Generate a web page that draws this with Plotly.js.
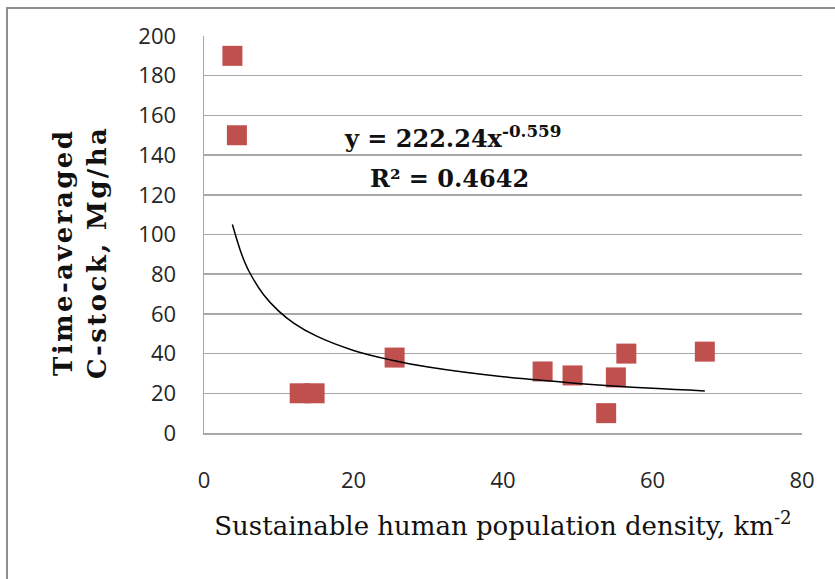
<!DOCTYPE html>
<html>
<head>
<meta charset="utf-8">
<script src="https://cdn.plot.ly/plotly-3.0.1.min.js"></script>
<style>
  html, body { margin: 0; padding: 0; background: #fff; }
  #wrap { position: relative; width: 835px; height: 579px; overflow: hidden; }
  #chart { position: absolute; left: 0; top: 0; width: 835px; height: 579px; }
  #frame { position: absolute; left: 6px; top: 7px; width: 900px; height: 700px;
           border-left: 2px solid #8f8f8f; border-top: 2px solid #8f8f8f; pointer-events: none; z-index: 5; }
  g.annotation[data-index="0"] text { letter-spacing: 2.4px; }
</style>
</head>
<body>
<div id="wrap">
  <div id="chart"></div>
  <div id="frame"></div>
</div>
<script>
const densityX = [3.8, 4.4, 12.8, 14.8, 25.5, 45.3, 49.3, 53.8, 55.1, 56.5, 67.0];
const cStockY  = [190, 150, 20, 20, 38, 31, 29, 10, 28, 40, 41];

// Power trendline as drawn in the picture
const trendX = [3.8, 5, 6, 8, 10, 12, 15, 20, 25, 30, 40, 50, 60, 67];
const trendY = [105, 90.4, 81.6, 69.5, 61.4, 55.4, 48.9, 41.6, 36.8, 33.2, 28.3, 25.0, 22.5, 21.2];

const xTickVals = [0, 20, 40, 60, 80];
const yTickVals = [0, 20, 40, 60, 80, 100, 120, 140, 160, 180, 200];

const equationText = 'y = 222.24x<sup>-0.559</sup>';
const r2Text = 'R² = 0.4642';
const xTitle = 'Sustainable human population density, km<sup>-2</sup>';
const yTitle = 'Time-averaged<br>C-stock, Mg/ha';

const traces = [
  {
    x: densityX, y: cStockY, type: 'scatter', mode: 'markers',
    marker: { symbol: 'square', size: 20, color: '#C0504D', line: { width: 0 } },
    hoverinfo: 'x+y', showlegend: false
  },
  {
    x: trendX, y: trendY, type: 'scatter', mode: 'lines',
    line: { color: '#000000', width: 1.5, shape: 'spline' },
    hoverinfo: 'skip', showlegend: false
  }
];

const tickFont = { family: 'Open Sans, Liberation Sans, sans-serif', size: 22, color: '#262626' };

const layout = {
  width: 835, height: 579,
  margin: { l: 204, r: 33, t: 36, b: 146, pad: 0 },
  paper_bgcolor: '#ffffff', plot_bgcolor: '#ffffff',
  showlegend: false,
  xaxis: {
    range: [0, 80], tickvals: xTickVals, ticktext: xTickVals.map(String),
    showgrid: false, zeroline: false, showline: true, linecolor: '#a8a8a8', linewidth: 1.5,
    ticks: '', tickfont: tickFont, ticklabelstandoff: 27,
    title: { text: xTitle, font: { family: 'DejaVu Serif, serif', size: 26, color: '#111' }, standoff: 24 }
  },
  yaxis: {
    range: [0, 200], tickvals: yTickVals, ticktext: yTickVals.map(String),
    showgrid: true, gridcolor: '#a8a8a8', gridwidth: 1.5,
    zeroline: false, showline: true, linecolor: '#a8a8a8', linewidth: 1.5,
    ticks: '', tickfont: tickFont, ticklabelstandoff: 22
  },
  annotations: [
    {
      text: '<b>' + yTitle.replace('<br>', '</b><br><b>') + '</b>', xref: 'paper', yref: 'paper', x: -0.206, y: 0.455,
      xanchor: 'center', yanchor: 'middle', textangle: -90, showarrow: false,
      font: { family: 'DejaVu Serif, serif', size: 26, color: '#111' }
    },
    {
      text: '<b>' + equationText + '</b>', xref: 'paper', yref: 'paper',
      x: 0.415, y: (432.7 - 137) / 397, xanchor: 'center', yanchor: 'middle', showarrow: false,
      font: { family: 'DejaVu Serif, serif', size: 24, color: '#111' }
    },
    {
      text: '<b>' + r2Text + '</b>', xref: 'paper', yref: 'paper',
      x: 0.41, y: (432.7 - 178) / 397, xanchor: 'center', yanchor: 'middle', showarrow: false,
      font: { family: 'DejaVu Serif, serif', size: 24, color: '#111' }
    }
  ]
};

Plotly.newPlot('chart', traces, layout, { displayModeBar: false, staticPlot: true });
</script>
</body>
</html>
